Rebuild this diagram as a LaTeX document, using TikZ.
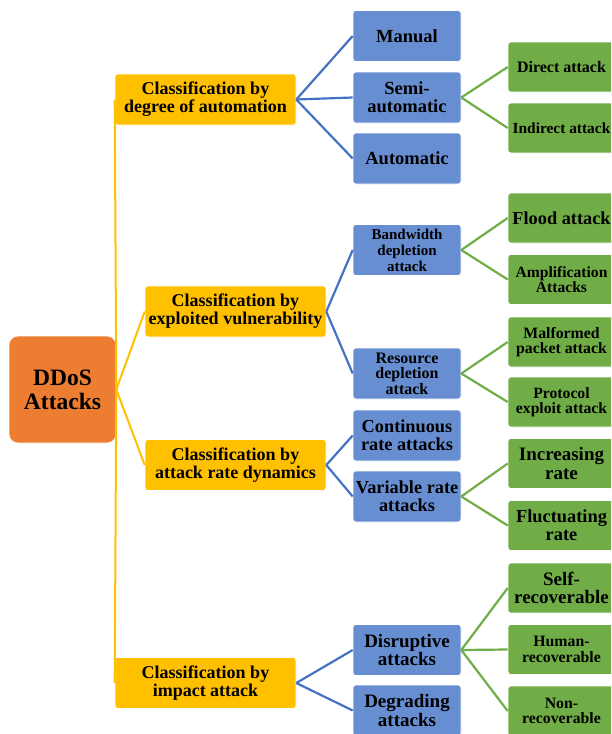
\documentclass[tikz,border=0pt]{standalone}
\usepackage{fontspec}
\setmainfont{Liberation Serif}
\definecolor{ylw}{HTML}{FFC000}
\definecolor{org}{HTML}{ED7D31}
\definecolor{bluebox}{HTML}{688ED2}
\definecolor{blueline}{HTML}{4472C4}
\definecolor{grn}{HTML}{70AD47}
\newcommand\fsz[2]{\fontsize{#1}{#2}\selectfont}
\begin{document}
\begin{tikzpicture}[x=1pt,y=-1pt,
  box/.style={rectangle, rounded corners=3pt, draw=white, line width=0.6pt, align=center, inner sep=0pt, text=black},
  rootbox/.style={box, fill=org, minimum width=107pt, minimum height=107pt, rounded corners=9pt},
  catbox/.style={box, fill=ylw, minimum width=181pt, minimum height=51pt, font=\bfseries\fsz{18}{17.8}},
  subbox/.style={box, fill=bluebox, minimum width=108pt, minimum height=51pt},
  leafbox/.style={box, fill=grn, minimum width=107pt, minimum height=50pt},
  yl/.style={draw=ylw, line width=2pt},
  bl/.style={draw=blueline, line width=2.2pt},
  gl/.style={draw=grn, line width=2.2pt}]
\clip (0,0) rectangle (611,734);
% root
\node[rootbox, font=\bfseries\fsz{23.5}{24}] (root) at (62.5,389.5) {DDoS\\Attacks};
% categories
\node[catbox] (ca) at (205.5,99.5) {Classification by\\degree of automation};
\node[catbox] (cb) at (235.5,311.5) {Classification by\\exploited vulnerability};
\node[catbox] (cc) at (235.5,465) {Classification by\\attack rate dynamics};
\node[catbox] (cd) at (205.5,683) {Classification by\\impact attack};
% sub
\node[subbox, font=\bfseries\fsz{18.5}{18.3}] (man) at (407,36) {Manual};
\node[subbox, font=\bfseries\fsz{18.5}{18.3}] (semi) at (407,97.5) {Semi-\\automatic};
\node[subbox, font=\bfseries\fsz{18.5}{18.3}] (auto) at (407,158.5) {Automatic};
\node[subbox, font=\bfseries\fsz{15}{16}] (band) at (407,250) {Bandwidth\\depletion\\attack};
\node[subbox, font=\bfseries\fsz{16}{15.6}] (res) at (407,373.5) {Resource\\depletion\\attack};
\node[subbox, font=\bfseries\fsz{18.3}{18}] (cont) at (407,435.5) {Continuous\\rate attacks};
\node[subbox, font=\bfseries\fsz{18.3}{18}] (var) at (407,496.5) {Variable rate\\attacks};
\node[subbox, font=\bfseries\fsz{19}{18.5}] (dis) at (407,650) {Disruptive\\attacks};
\node[subbox, font=\bfseries\fsz{19}{18.5}] (deg) at (407,710.5) {Degrading\\attacks};
% leaves
\node[leafbox, font=\bfseries\fsz{16}{16}] (dir) at (561.5,67) {Direct attack};
\node[leafbox, font=\bfseries\fsz{15.4}{16}] (ind) at (561.5,128) {Indirect attack};
\node[leafbox, font=\bfseries\fsz{18.3}{18}] (flood) at (561.5,218) {Flood attack};
\node[leafbox, font=\bfseries\fsz{15.6}{15.5}] (amp) at (561.5,279.5) {Amplification\\Attacks};
\node[leafbox, font=\bfseries\fsz{15.8}{15.5}] (mal) at (561.5,342) {Malformed\\packet attack};
\node[leafbox, font=\bfseries\fsz{15.7}{15.5}] (pro) at (561.5,402) {Protocol\\exploit attack};
\node[leafbox, font=\bfseries\fsz{19}{18.3}] (inc) at (561.5,463.5) {Increasing\\rate};
\node[leafbox, font=\bfseries\fsz{18.4}{18.3}] (flu) at (561.5,525.5) {Fluctuating\\rate};
\node[leafbox, font=\bfseries\fsz{19}{18.3}] (self) at (561.5,588) {Self-\\recoverable};
\node[leafbox, font=\bfseries\fsz{15.8}{15.5}] (hum) at (561.5,649.5) {Human-\\recoverable};
\node[leafbox, font=\bfseries\fsz{15.8}{15.5}] (non) at (561.5,711) {Non-\\recoverable};
% connectors
\foreach \c in {ca,cb,cc,cd} \draw[yl] (root.east) -- (\c.west);
\foreach \s in {man,semi,auto} \draw[bl] (ca.east) -- (\s.west);
\foreach \s in {band,res} \draw[bl] (cb.east) -- (\s.west);
\foreach \s in {cont,var} \draw[bl] (cc.east) -- (\s.west);
\foreach \s in {dis,deg} \draw[bl] (cd.east) -- (\s.west);
\foreach \l in {dir,ind} \draw[gl] (semi.east) -- (\l.west);
\foreach \l in {flood,amp} \draw[gl] (band.east) -- (\l.west);
\foreach \l in {mal,pro} \draw[gl] (res.east) -- (\l.west);
\foreach \l in {inc,flu} \draw[gl] (var.east) -- (\l.west);
\foreach \l in {self,hum,non} \draw[gl] (dis.east) -- (\l.west);
\end{tikzpicture}
\end{document}
